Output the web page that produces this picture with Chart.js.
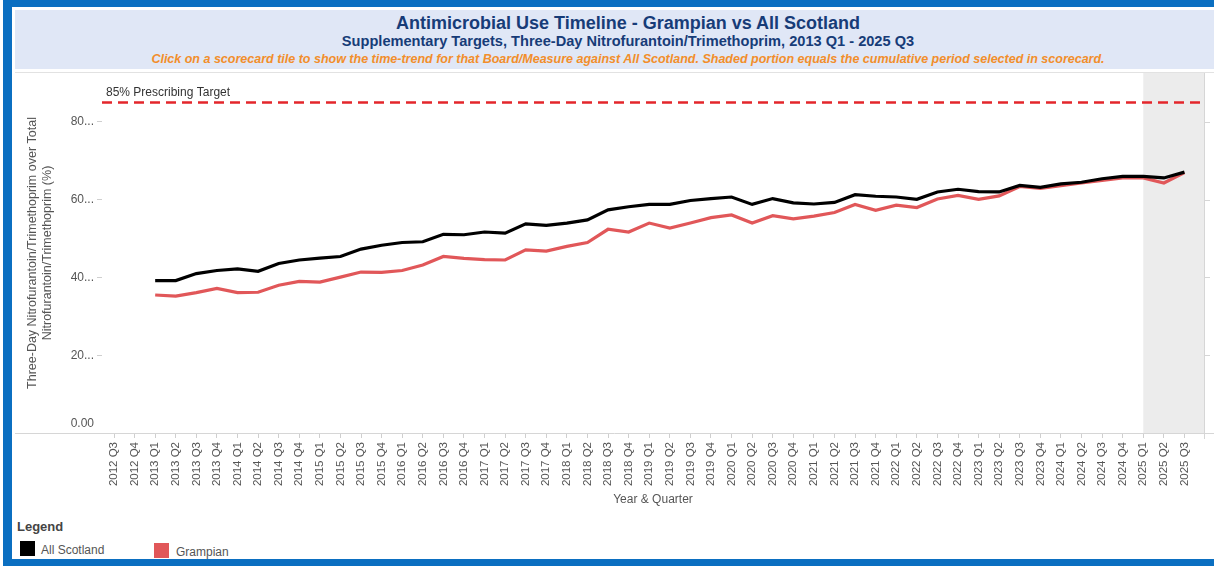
<!DOCTYPE html>
<html>
<head>
<meta charset="utf-8">
<title>Antimicrobial Use Timeline</title>
<script src="https://cdn.jsdelivr.net/npm/chart.js@4.4.1/dist/chart.umd.min.js"></script>
<style>
  body { margin: 0; width: 1214px; height: 566px; overflow: hidden; background: #fff; position: relative;
         font-family: "Liberation Sans", Arial, sans-serif; }
  #frame { position: absolute; left: 3px; top: 0; width: 1211px; height: 566px; box-sizing: border-box;
           border-left: 9px solid #0b6fc1; border-top: 7px solid #0b6fc1; border-bottom: 7px solid #0b6fc1; }
  #header { position: absolute; left: 15px; top: 10px; width: 1226px; height: 59px; background: #e0e7f6; }
  #header div { position: absolute; left: 0; width: 100%; text-align: center; white-space: nowrap; line-height: 1; }
  #title { top: 4px; font-size: 18px; font-weight: bold; color: #173c78; }
  #subtitle { top: 24px; font-size: 14.6px; font-weight: bold; color: #173c78; }
  #note { top: 43px; font-size: 12.5px; font-weight: bold; font-style: italic; color: #f28e2b; }
  #sep { position: absolute; left: 15px; top: 72px; width: 1199px; height: 1px; background: #e2e2e2; }
  #chartBox { position: absolute; left: 12px; top: 73px; width: 1202px; height: 440px; }
  #legend { position: absolute; left: 17px; top: 519px; }
  .lg-title { position: absolute; left: 0; top: 0; font-size: 13px; font-weight: bold; color: #444; }
  .sw { position: absolute; width: 15px; height: 15px; }
  .lg-text { position: absolute; font-size: 12px; color: #555; white-space: nowrap; }
</style>
</head>
<body>
<div id="frame"></div>
<div id="header">
  <div id="title">Antimicrobial Use Timeline - Grampian vs All Scotland</div>
  <div id="subtitle">Supplementary Targets, Three-Day Nitrofurantoin/Trimethoprim, 2013 Q1 - 2025 Q3</div>
  <div id="note">Click on a scorecard tile to show the time-trend for that Board/Measure against All Scotland. Shaded portion equals the cumulative period selected in scorecard.</div>
</div>
<div id="sep"></div>
<div id="chartBox"><canvas id="timeline"></canvas></div>
<div id="legend">
  <div class="lg-title">Legend</div>
  <div class="sw" style="left:3px;top:22px;background:#000"></div>
  <div class="lg-text" style="left:24px;top:24px">All Scotland</div>
  <div class="sw" style="left:137px;top:24px;background:#e15759"></div>
  <div class="lg-text" style="left:159px;top:26px">Grampian</div>
</div>
<script>
var quarters = ['2012 Q3','2012 Q4',
  '2013 Q1','2013 Q2','2013 Q3','2013 Q4','2014 Q1','2014 Q2','2014 Q3','2014 Q4',
  '2015 Q1','2015 Q2','2015 Q3','2015 Q4','2016 Q1','2016 Q2','2016 Q3','2016 Q4',
  '2017 Q1','2017 Q2','2017 Q3','2017 Q4','2018 Q1','2018 Q2','2018 Q3','2018 Q4',
  '2019 Q1','2019 Q2','2019 Q3','2019 Q4','2020 Q1','2020 Q2','2020 Q3','2020 Q4',
  '2021 Q1','2021 Q2','2021 Q3','2021 Q4','2022 Q1','2022 Q2','2022 Q3','2022 Q4',
  '2023 Q1','2023 Q2','2023 Q3','2023 Q4','2024 Q1','2024 Q2','2024 Q3','2024 Q4',
  '2025 Q1','2025 Q2','2025 Q3'];

var allScotland = [null,null,
  39.2,39.2,41.0,41.8,42.2,41.6,43.6,44.5,
  45.0,45.4,47.3,48.3,49.0,49.2,51.1,51.0,
  51.7,51.4,53.8,53.4,54.0,54.8,57.4,58.2,
  58.8,58.8,59.8,60.3,60.7,58.8,60.3,59.2,
  58.9,59.3,61.3,60.9,60.7,60.1,62.0,62.7,
  62.1,62.0,63.7,63.2,64.1,64.5,65.4,66.0,
  66.0,65.6,67.1];

var grampian = [null,null,
  35.5,35.2,36.1,37.2,36.1,36.2,38.0,39.0,
  38.8,40.1,41.4,41.3,41.8,43.2,45.4,44.9,
  44.6,44.5,47.1,46.8,48.0,49.0,52.4,51.7,
  54.0,52.7,54.0,55.4,56.1,54.0,55.9,55.1,
  55.8,56.7,58.8,57.3,58.6,58.0,60.2,61.1,
  60.1,61.0,63.4,62.9,63.6,64.3,65.0,65.6,
  65.6,64.3,67.0];

var yTicks = [20, 40, 60, 80];
var targetValue = 85;
var targetText = '85% Prescribing Target';
var shadedFrom = '2025 Q1';

var fontFamily = '"Liberation Sans", Arial, sans-serif';
Chart.defaults.font.family = fontFamily;

function toPoints(values) {
  return values.map(function(v, i) { return {x: i, y: v}; });
}

// shaded period, baseline, right-hand axis and the target line
var extras = {
  id: 'extras',
  beforeDatasetsDraw: function(chart) {
    var ctx = chart.ctx, a = chart.chartArea, x = chart.scales.x, y = chart.scales.y;
    ctx.save();
    var sx = x.getPixelForValue(quarters.indexOf(shadedFrom));
    ctx.fillStyle = '#ececec';
    ctx.fillRect(sx, a.top, a.right - sx, a.bottom - a.top);

    ctx.strokeStyle = '#d6d6d6';
    ctx.lineWidth = 1;
    ctx.beginPath();
    ctx.moveTo(3, Math.round(a.bottom) + 0.5);
    ctx.lineTo(chart.width, Math.round(a.bottom) + 0.5);
    ctx.moveTo(Math.round(a.right) + 0.5, a.top);
    ctx.lineTo(Math.round(a.right) + 0.5, a.bottom + 6);
    yTicks.forEach(function(v) {
      var py = Math.round(y.getPixelForValue(v)) + 0.5;
      ctx.moveTo(a.right, py);
      ctx.lineTo(a.right + 6, py);
    });
    ctx.stroke();

    var ty = y.getPixelForValue(targetValue);
    ctx.strokeStyle = '#e3262b';
    ctx.lineWidth = 2.5;
    ctx.setLineDash([10, 6]);
    ctx.beginPath();
    ctx.moveTo(a.left, ty);
    ctx.lineTo(a.right, ty);
    ctx.stroke();
    ctx.setLineDash([]);

    ctx.font = '12px ' + fontFamily;
    ctx.textBaseline = 'middle';
    ctx.textAlign = 'left';
    ctx.fillStyle = '#333';
    ctx.fillText(targetText, a.left + 4, ty - 10);

    ctx.textAlign = 'right';
    ctx.fillStyle = '#555';
    ctx.fillText('0.00', a.left - 8, y.getPixelForValue(0) - 9);
    ctx.restore();
  }
};

var chartTimeline = new Chart(document.getElementById('timeline').getContext('2d'), {
  type: 'line',
  data: {
    datasets: [{
      label: 'All Scotland',
      data: toPoints(allScotland),
      borderColor: '#000000',
      backgroundColor: '#000000',
      borderWidth: 3.2,
      pointRadius: 0,
      tension: 0
    },
    {
      label: 'Grampian',
      data: toPoints(grampian),
      borderColor: '#e15759',
      backgroundColor: '#e15759',
      borderWidth: 3.2,
      pointRadius: 0,
      tension: 0
    }]
  },
  options: {
    responsive: true,
    maintainAspectRatio: false,
    animation: false,
    layout: { padding: { left: 0, right: 10, top: 0, bottom: 0 } },
    plugins: {
      legend: { display: false },
      tooltip: { enabled: false }
    },
    scales: {
      x: {
        type: 'linear',
        min: -0.583,
        max: 52.95,
        afterBuildTicks: function(s) { s.ticks = quarters.map(function(q, i) { return {value: i}; }); },
        afterFit: function(s) { s.height = 80; s.paddingLeft = 0; s.paddingRight = 0; },
        grid: { drawOnChartArea: false, drawTicks: true, tickLength: 5, color: '#cfcfcf' },
        border: { display: false },
        ticks: {
          autoSkip: false, minRotation: 90, maxRotation: 90, padding: 4,
          color: '#555', font: { size: 11.5 },
          callback: function(v) { return quarters[v]; }
        },
        title: { display: true, text: 'Year & Quarter', color: '#555', font: { size: 12 }, padding: { top: 0, bottom: 6 } }
      },
      y: {
        min: 0,
        max: 92.6,
        afterBuildTicks: function(s) { s.ticks = yTicks.map(function(v) { return {value: v}; }); },
        afterFit: function(s) { s.width = 90; s.paddingTop = 0; s.paddingBottom = 0; },
        grid: { drawOnChartArea: false, drawTicks: true, tickLength: 5, color: '#cfcfcf' },
        border: { display: false },
        ticks: { padding: 3, color: '#555', font: { size: 12 }, callback: function(v) { return v + '...'; } },
        title: {
          display: true,
          text: ['Three-Day Nitrofurantoin/Trimethoprim over Total', 'Nitrofurantoin/Trimethoprim (%)'],
          color: '#555', font: { size: 12.5 }, padding: { top: 13, bottom: 0 }
        }
      }
    }
  },
  plugins: [extras]
});
</script>
</body>
</html>
